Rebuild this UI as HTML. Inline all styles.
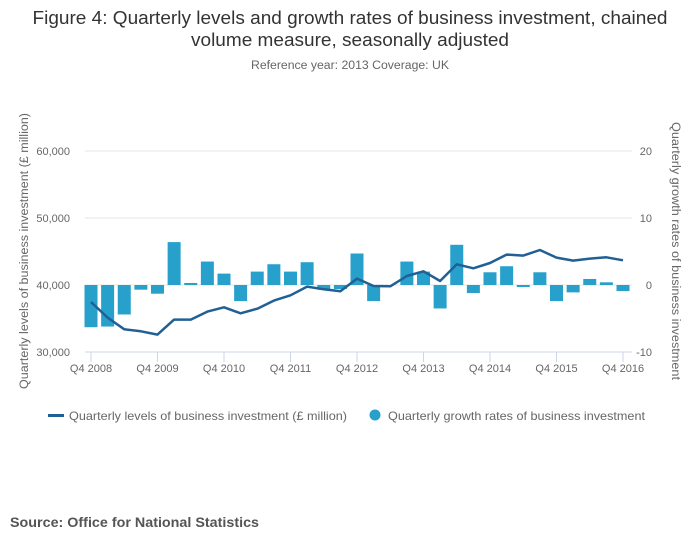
<!DOCTYPE html>
<html><head><meta charset="utf-8"><style>
body{margin:0;background:#fff;font-family:"Liberation Sans",sans-serif;}
svg text{font-family:"Liberation Sans",sans-serif;}
</style></head><body>
<svg id="chart" width="700" height="549" viewBox="0 0 700 549">
<text x="350" y="24" text-anchor="middle" font-size="18" fill="#333" textLength="635" lengthAdjust="spacingAndGlyphs">Figure 4: Quarterly levels and growth rates of business investment, chained</text>
<text x="350" y="46" text-anchor="middle" font-size="18" fill="#333" textLength="318" lengthAdjust="spacingAndGlyphs">volume measure, seasonally adjusted</text>
<text x="350" y="69" text-anchor="middle" font-size="11.5" fill="#666" textLength="198" lengthAdjust="spacingAndGlyphs">Reference year: 2013 Coverage: UK</text>
<g id="grid"></g>
<g id="bars"></g>
<g id="line"></g>
<g id="axes"></g>
<text transform="translate(28,251) rotate(-90)" text-anchor="middle" font-size="11.5" fill="#666" textLength="276" lengthAdjust="spacingAndGlyphs">Quarterly levels of business investment (£ million)</text>
<text transform="translate(672,251) rotate(90)" text-anchor="middle" font-size="11.5" fill="#666" textLength="258" lengthAdjust="spacingAndGlyphs">Quarterly growth rates of business investment</text>
<g>
<rect x="48" y="414" width="16" height="3" fill="#206095"/>
<text x="69" y="420" font-size="12" fill="#666" textLength="278" lengthAdjust="spacingAndGlyphs">Quarterly levels of business investment (£ million)</text>
<circle cx="375" cy="415" r="5.5" fill="#27a0cc"/>
<text x="388" y="420" font-size="12" fill="#666" textLength="257" lengthAdjust="spacingAndGlyphs">Quarterly growth rates of business investment</text>
</g>
<text x="10" y="527" font-size="14" font-weight="bold" fill="#555" textLength="249" lengthAdjust="spacingAndGlyphs">Source: Office for National Statistics</text>
</svg>
<script>
const growth=[-6.3,-6.2,-4.4,-0.7,-1.3,6.4,0.3,3.5,1.7,-2.4,2.0,3.1,2.0,3.4,-0.7,-0.6,4.7,-2.4,0.0,3.5,2.0,-3.5,6.0,-1.2,1.9,2.8,-0.3,1.9,-2.4,-1.1,0.9,0.4,-0.9];
const levels=[37460,35130,33390,33090,32600,34840,34840,36030,36670,35780,36470,37670,38460,39760,39360,39060,40960,39850,39800,41340,42040,40600,43090,42490,43280,44540,44390,45220,44090,43640,43940,44130,43690];
const xLabels=["Q4 2008","Q4 2009","Q4 2010","Q4 2011","Q4 2012","Q4 2013","Q4 2014","Q4 2015","Q4 2016"];
const leftTicks=[30000,40000,50000,60000];
const rightTicks=[-10,0,10,20];
const NS="http://www.w3.org/2000/svg";
const x0=91,dx=16.625;
const xs=i=>x0+i*dx;
const yL=v=>352-(v-30000)*67/10000;
const yR=v=>285-v*6.7;
function mk(t,a,p){const e=document.createElementNS(NS,t);for(const k in a)e.setAttribute(k,a[k]);p.appendChild(e);return e;}
const grid=document.getElementById('grid'),axes=document.getElementById('axes');
leftTicks.forEach((v,i)=>{
 const y=yL(v);
 const l=mk('line',{x1:85,x2:632,y1:y,y2:y,stroke:i==0?'#ccd6eb':'#e6e6e6','stroke-width':1},grid);
 
 
 const t=mk('text',{x:70,y:y+4,'text-anchor':'end','font-size':11,fill:'#666'},axes);
 t.textContent=v.toLocaleString('en-US');
 
 
});
rightTicks.forEach(v=>{
 const t=mk('text',{x:652,y:yR(v)+4,'text-anchor':'end','font-size':11,fill:'#666'},axes);
 t.textContent=v;
 
 
});
xLabels.forEach((s,i)=>{
 const x=xs(i*4);
 const tk=mk('line',{x1:x,x2:x,y1:352,y2:362,stroke:'#ccd6eb'},axes);
 
 
 const t=mk('text',{x:x,y:372,'text-anchor':'middle','font-size':11,fill:'#666'},axes);
 t.textContent=s;
 
 
});
const bars=document.getElementById('bars');
growth.forEach((v,i)=>{
 const y=yR(Math.max(v,0)),h=Math.abs(yR(v)-yR(0));
 const r=mk('rect',{x:xs(i)-6.5,y:y,width:13,height:h,fill:'#27a0cc'},bars);
 
 
});
const pts=levels.map((v,i)=>xs(i).toFixed(1)+','+yL(v).toFixed(1)).join(' ');
const pl=mk('polyline',{points:pts,fill:'none',stroke:'#206095','stroke-width':2.5,'stroke-linejoin':'round'},document.getElementById('line'));


</script>
</body></html>
